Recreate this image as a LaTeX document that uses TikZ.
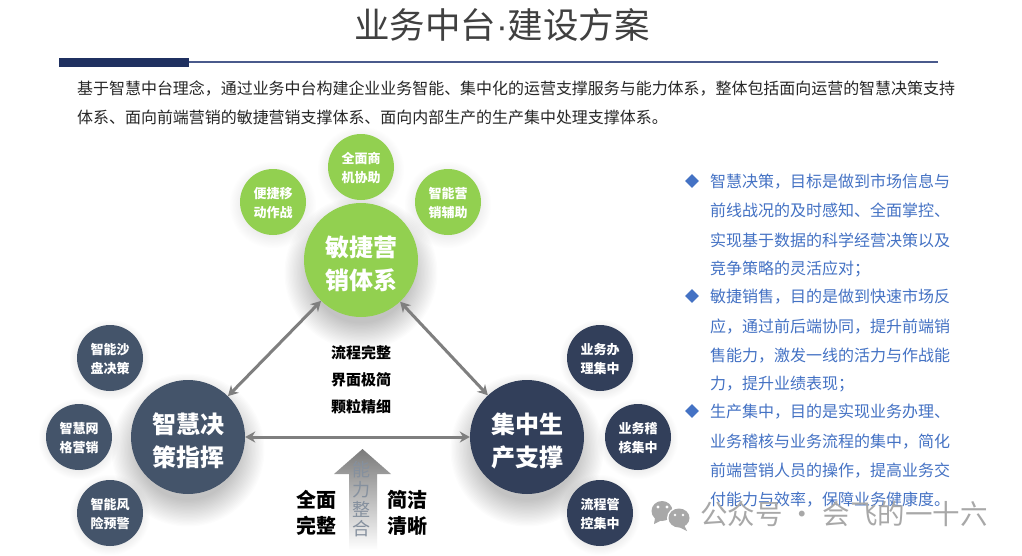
\documentclass[tikz,border=0pt]{standalone}
\usepackage{fontspec}
\setmainfont{Noto Sans CJK SC}
\newfontfamily\latinfont{Liberation Sans}
\usetikzlibrary{shapes.geometric,arrows.meta}
\definecolor{cgreen}{HTML}{92D050}
\definecolor{cslate}{HTML}{44546A}
\definecolor{cnavy}{HTML}{323F5A}
\definecolor{cbar}{HTML}{1F3060}
\definecolor{cline}{HTML}{4A5A8C}
\definecolor{cblue}{HTML}{4472C4}
\definecolor{carrow}{HTML}{7F7F7F}
\definecolor{cwm}{HTML}{A8A8A8}
\tikzset{
  x=1pt,y=-1pt,
  bigbub/.style={circle,minimum size=114pt,inner sep=0pt,text=white,align=center,
    font=\fontsize{24}{33}\selectfont\bfseries},
  smallbub/.style={circle,minimum size=66pt,inner sep=0pt,text=white,align=center,
    font=\fontsize{13}{19}\selectfont\bfseries},
  link/.style={draw=carrow,line width=3pt,{Stealth[length=10pt,width=11pt]}-{Stealth[length=10pt,width=11pt]}},
  bodytxt/.style={anchor=west,inner sep=0pt,text=black!85,font=\fontsize{15.96}{16}\selectfont},
  sidetxt/.style={anchor=west,inner sep=0pt,text=cblue,font=\fontsize{16}{16}\selectfont},
  bullet/.style={diamond,fill=cblue,inner sep=0pt,minimum width=14pt,minimum height=14pt},
  midtxt/.style={inner sep=0pt,text=black,font=\fontsize{15}{15}\selectfont\bfseries},
  sidelab/.style={inner sep=0pt,text=black,align=center,font=\fontsize{20}{26}\selectfont\bfseries},
  captxt/.style={inner sep=0pt,text=cslate!65,font=\fontsize{18}{18}\selectfont},
}
% two-line label shifted inside its circle without changing the box size
\newcommand{\twoline}[3]{\raisebox{#1}[0pt][0pt]{\begin{tabular}{@{}c@{}}#2\\#3\end{tabular}}}
% soft shadow: stacked translucent discs (x, y, radius, spread, drop, opacity)
\newcommand{\softshade}[6]{%
  \foreach \k in {0,...,19}{
    \fill[black,opacity=#6] (#1,{#2+#5}) circle ({#3+#4*(\k/19-0.25)});
  }}
\begin{document}
\begin{tikzpicture}
\useasboundingbox (0,0) rectangle (1022,555);
\fill[white] (0,0) rectangle (1022,555);

% title and rule
\node[inner sep=0pt,text=black!75,font=\fontsize{35.5}{36}\selectfont] (title) at (502,25) {业务中台{\latinfont ·}建设方案};
\fill[cline] (188,61) rectangle (938,63.2);
\fill[cbar] (59,58) rectangle (188.5,66.5);

% intro
\node[bodytxt] (intro1) at (77,88.5) {基于智慧中台理念，通过业务中台构建企业业务智能、集中化的运营支撑服务与能力体系，整体包括面向运营的智慧决策支持};
\node[bodytxt] (intro2) at (77,117.5) {体系、面向前端营销的敏捷营销支撑体系、面向内部生产的生产集中处理支撑体系。};

% shadows
\softshade{361}{260}{57}{26}{13}{0.011}
\softshade{188}{437}{57}{26}{13}{0.011}
\softshade{527}{437}{57}{26}{13}{0.011}
\softshade{361}{167}{33}{14}{3}{0.004}
\softshade{273}{202}{33}{14}{3}{0.004}
\softshade{448}{202}{33}{14}{3}{0.004}
\softshade{110}{358}{33}{10}{2}{0.004}
\softshade{79}{437}{33}{10}{2}{0.004}
\softshade{110}{513}{33}{10}{2}{0.004}
\softshade{600}{358}{33}{10}{2}{0.004}
\softshade{638}{437}{33}{10}{2}{0.004}
\softshade{600}{513}{33}{10}{2}{0.004}

% green group
\node[smallbub,fill=cgreen] (g1) at (361,167) {\twoline{-5pt}{全面商}{机协助}};
\node[smallbub,fill=cgreen] (g2) at (273,202) {\twoline{-5pt}{便捷移}{动作战}};
\node[smallbub,fill=cgreen] (g3) at (448,202) {\twoline{-5pt}{智能营}{销辅助}};
\node[bigbub,fill=cgreen] (green) at (361,260) {\twoline{-13pt}{敏捷营}{销体系}};

% slate group
\node[smallbub,fill=cslate] (s1) at (110,358) {\twoline{-5pt}{智能沙}{盘决策}};
\node[smallbub,fill=cslate] (s2) at (79,437) {\twoline{-5pt}{智慧网}{格营销}};
\node[smallbub,fill=cslate] (s3) at (110,513) {\twoline{-5pt}{智能风}{险预警}};
\node[bigbub,fill=cslate] (slate) at (188,437) {\twoline{-13pt}{智慧决}{策指挥}};

% navy group
\node[smallbub,fill=cnavy] (n1) at (600,358) {\twoline{-5pt}{业务办}{理集中}};
\node[smallbub,fill=cnavy] (n2) at (638,437) {\twoline{-5pt}{业务稽}{核集中}};
\node[smallbub,fill=cnavy] (n3) at (600,513) {\twoline{-5pt}{流程管}{控集中}};
\node[bigbub,fill=cnavy] (navy) at (527,437) {\twoline{-13pt}{集中生}{产支撑}};

% connectors
\draw[link] (green) -- (slate);
\draw[link] (green) -- (navy);
\draw[link] (slate) -- (navy);

% centre labels
\node[midtxt] (m1) at (361,352.5) {流程完整};
\node[midtxt] (m2) at (361,380) {界面极简};
\node[midtxt] (m3) at (361,407) {颗粒精细};

% capability arrow
\shade[top color=black!52,bottom color=white]
  (362.5,449) -- (391,474) -- (377,474) -- (377,550) -- (349,550) -- (349,474) -- (334,474) -- cycle;
\node[captxt] (c1) at (361,470) {能};
\node[captxt] (c2) at (361,490) {力};
\node[captxt] (c3) at (361,509) {整};
\node[captxt] (c4) at (361,529) {合};
\node[sidelab] (lab1) at (316,513) {全面\\完整};
\node[sidelab] (lab2) at (407,513) {简洁\\清晰};

% right column
\node[bullet] (b1) at (692,181) {};
\node[bullet] (b2) at (692,296) {};
\node[bullet] (b3) at (692,411) {};
\node[sidetxt] (t1) at (710,181.5) {智慧决策，目标是做到市场信息与};
\node[sidetxt] (t2) at (710,210.5) {前线战况的及时感知、全面掌控、};
\node[sidetxt] (t3) at (710,240) {实现基于数据的科学经营决策以及};
\node[sidetxt] (t4) at (710,269) {竞争策略的灵活应对；};
\node[sidetxt] (t5) at (710,297) {敏捷销售，目的是做到快速市场反};
\node[sidetxt] (t6) at (710,326.5) {应，通过前后端协同，提升前端销};
\node[sidetxt] (t7) at (710,355.5) {售能力，激发一线的活力与作战能};
\node[sidetxt] (t8) at (710,384.5) {力，提升业绩表现；};
\node[sidetxt] (t9) at (710,412) {生产集中，目的是实现业务办理、};
\node[sidetxt] (t10) at (710,441.5) {业务稽核与业务流程的集中，简化};
\node[sidetxt] (t11) at (710,470.5) {前端营销人员的操作，提高业务交};
\node[sidetxt] (t12) at (710,499.5) {付能力与效率，保障业务健康度。};

% watermark
\fill[cwm] (662,511) ellipse (10.5 and 10);
\fill[cwm] (655,518) -- (654,524) -- (662,520) -- cycle;
\fill[white] (679,518) ellipse (12 and 11);
\fill[cwm] (679,518) ellipse (10.5 and 9.5);
\fill[cwm] (684,525) -- (687,531) -- (679,527) -- cycle;
\fill[white] (658,507) circle (1.6) (667,507) circle (1.6) (675,515) circle (1.3) (683,515) circle (1.3);
\node[anchor=west,inner sep=0pt,text=cwm,font=\fontsize{27.5}{28}\selectfont] (wm) at (700,514) {公众号 · 会飞的一十六};
\end{tikzpicture}
\end{document}
